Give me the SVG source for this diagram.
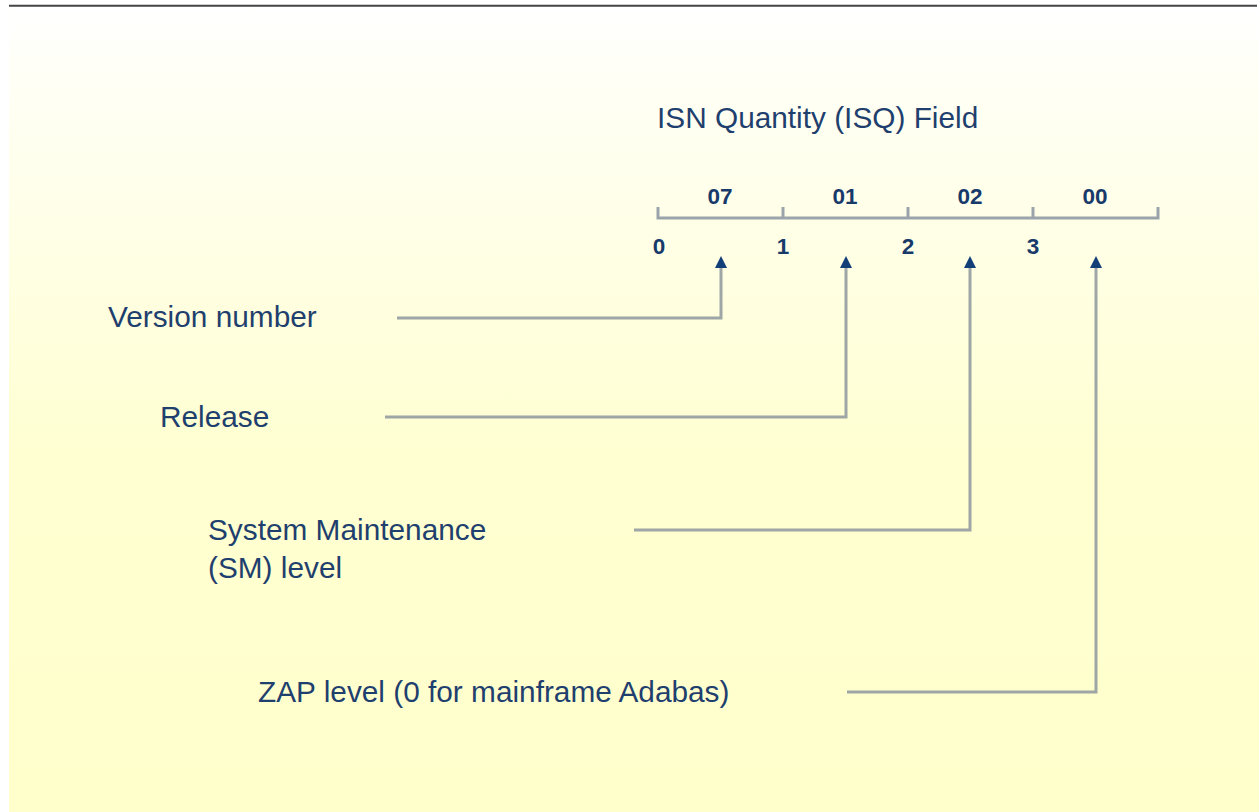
<svg xmlns="http://www.w3.org/2000/svg" width="1259" height="812" viewBox="0 0 1259 812">
<defs>
<linearGradient id="bg" x1="0" y1="0" x2="0" y2="1">
<stop offset="0" stop-color="#FFFFFF"/>
<stop offset="0.08" stop-color="#FFFFF6"/>
<stop offset="0.55" stop-color="#FFFFD2"/>
<stop offset="1" stop-color="#FFFFCC"/>
</linearGradient>
<marker id="ah" viewBox="0 0 12 12" markerWidth="12" markerHeight="12" refX="0" refY="6" orient="auto" markerUnits="userSpaceOnUse">
<path d="M0,0 L12,6 L0,12 Z" fill="#123f78"/>
</marker>
<style>
.lbl{font-family:"Liberation Sans",Arial,sans-serif;font-size:29.8px;fill:#1f3f6e}
.num{font-family:"Liberation Sans",Arial,sans-serif;font-size:22.5px;font-weight:bold;fill:#173a6a;text-anchor:middle}
.conn{fill:none;stroke:#9ea6a6;stroke-width:3;stroke-linejoin:miter}
.scale{fill:none;stroke:#9aa4aa;stroke-width:3}
</style>
</defs>
<rect x="0" y="0" width="1259" height="812" fill="#FFFFFF"/>
<rect x="9" y="8" width="1250" height="804" fill="url(#bg)"/>
<line x1="9" y1="5.8" x2="1257" y2="5.8" stroke="#444444" stroke-width="2"/>

<g id="title"><text class="lbl" x="657" y="128">ISN Quantity (ISQ) Field</text></g>

<g id="scale">
<path class="scale" d="M658,207 V218 H1158 V207 M783,207 V218 M908,207 V218 M1033,207 V218"/>
<text class="num" x="720" y="204">07</text>
<text class="num" x="845" y="204">01</text>
<text class="num" x="970" y="204">02</text>
<text class="num" x="1095" y="204">00</text>
<text class="num" x="659" y="254">0</text>
<text class="num" x="783" y="254">1</text>
<text class="num" x="908" y="254">2</text>
<text class="num" x="1033" y="254">3</text>
</g>

<g id="version"><text class="lbl" x="108" y="327">Version number</text></g>
<g id="release"><text class="lbl" x="160" y="427">Release</text></g>
<g id="sm"><text class="lbl" x="208" y="540">System Maintenance</text><text class="lbl" x="208" y="578">(SM) level</text></g>
<g id="zap"><text class="lbl" x="258" y="702">ZAP level (0 for mainframe Adabas)</text></g>

<g id="connectors">
<path class="conn" d="M397,318 H721 V268" marker-end="url(#ah)"/>
<path class="conn" d="M385,417 H846 V268" marker-end="url(#ah)"/>
<path class="conn" d="M634,530 H970 V268" marker-end="url(#ah)"/>
<path class="conn" d="M847,692 H1096 V268" marker-end="url(#ah)"/>
</g>
</svg>
